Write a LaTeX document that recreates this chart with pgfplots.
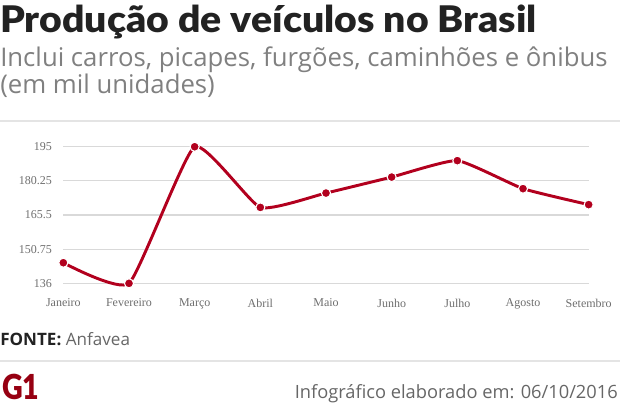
\documentclass[border=0pt]{standalone}
\usepackage{pgfplots}
\pgfplotsset{compat=1.18}
\usepackage{fontspec}
\setmainfont{Open Sans}
\newfontfamily\titlefont{Lato}[BoldFont={Lato Black}]
\newfontfamily\tickfont{Liberation Serif}
\definecolor{linered}{RGB}{178,0,30}
\definecolor{titlegray}{RGB}{34,34,34}
\definecolor{subgray}{RGB}{128,128,128}
\definecolor{botgray}{RGB}{102,102,102}
\definecolor{gridgray}{RGB}{217,217,217}
\definecolor{sepgray}{RGB}{228,228,228}
\definecolor{tickgray}{RGB}{110,110,110}
\definecolor{logored}{RGB}{150,0,18}
\begin{document}
\begin{tikzpicture}
\path[use as bounding box] (0,0) rectangle (465pt,-305.25pt);
\begin{scope}[x=0.75pt,y=-0.75pt]
\node[anchor=base west, inner sep=0, text=titlegray, font=\titlefont\bfseries\fontsize{27.5}{32}\selectfont] at (0,32) {\scalebox{1.068}[1]{Produção de veículos no Brasil}};
\node[anchor=base west, inner sep=0, text=subgray, font=\fontsize{19.3}{23}\selectfont] at (0,66) {Inclui carros, picapes, furgões, caminhões e ônibus};
\node[anchor=base west, inner sep=0, text=subgray, font=\fontsize{19.3}{23}\selectfont] at (0,93) {(em mil unidades)};
\fill[sepgray] (0,119.5) rectangle (620,122);
\fill[sepgray] (0,360) rectangle (620,361.5);
\node[anchor=base west, inner sep=0, font=\fontsize{12.8}{15}\selectfont] at (0,345) {\textcolor{titlegray}{\bfseries FONTE:} \textcolor{botgray}{Anfavea}};
\node[anchor=base east, inner sep=0, text=botgray, font=\fontsize{13.7}{16}\selectfont] at (618,398) {Infográfico elaborado em: 06/10/2016};
\node[anchor=south west, inner sep=0, text=logored] at (2,400) {\resizebox{28pt}{19pt}{\titlefont\bfseries G1}};
\end{scope}
\begin{axis}[
  at={(47.5pt,-212.5pt)}, anchor=south west,
  scale only axis, width=394pt, height=102.45pt,
  xmin=0, xmax=8, ymin=136, ymax=195,
  clip=false,
  axis line style={draw=none},
  xtick={0,...,8},
  xticklabels={Janeiro,Fevereiro,Março,Abril,Maio,Junho,Julho,Agosto,Setembro},
  ytick={136,150.75,165.5,180.25,195},
  yticklabels={136,150.75,165.5,180.25,195},
  major tick length=0pt,
  ymajorgrids, grid style={gridgray, line width=0.9pt},
  tick label style={font=\tickfont\fontsize{9}{10}\selectfont, text=tickgray},
  xticklabel style={yshift=-8pt},
  yticklabel style={xshift=-5pt},
]
\addplot[linered, line width=2.2pt, smooth, tension=0.28, mark=*, mark size=3.4pt,
  mark options={fill=linered, draw=white, line width=0.8pt}]
  coordinates {(0,144.9) (1,136.0) (2,195.0) (3,168.8) (4,175.0) (5,181.9) (6,189.0) (7,176.9) (8,170.0)};
\end{axis}
\end{tikzpicture}
\end{document}
